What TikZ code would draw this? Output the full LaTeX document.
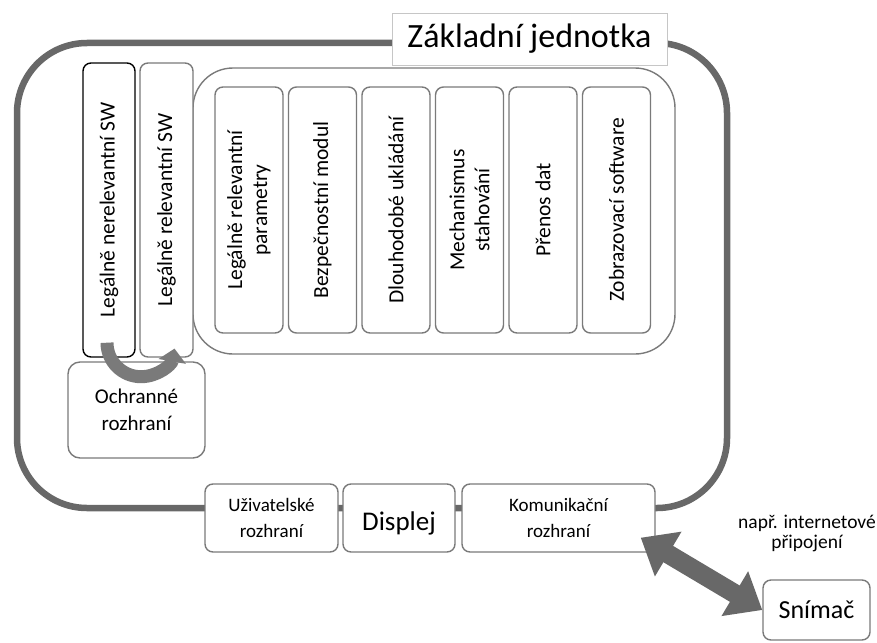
\documentclass[tikz,border=0pt]{standalone}
\usepackage{fontspec}
\setmainfont{Carlito}
\usetikzlibrary{arrows.meta}
\definecolor{ramec}{HTML}{686868}
\definecolor{okraj}{HTML}{7A7A7A}
\begin{document}
\begin{tikzpicture}[x=1pt,y=-1pt,
  box/.style={draw=okraj, line width=1.4pt, rounded corners=8pt, fill=white, align=center, inner sep=1pt},
  modul/.style={box, rotate=90, minimum height=68pt, font=\fontsize{21.5}{25}\selectfont},
  rozhrani/.style={box, minimum height=68pt, font=\fontsize{19}{26}\selectfont}]
  \useasboundingbox (0,0) rectangle (877,642);

  \draw[ramec, line width=6.5pt, rounded corners=70pt] (17,43) rectangle (727,508);

  \node[draw=gray!45, fill=white, line width=0.8pt, minimum width=275pt, minimum height=52pt, font=\fontsize{34}{40}\selectfont] (zakl) at (529.5,39) {Základní jednotka};

  \node[box, rounded corners=40pt, minimum width=482pt, minimum height=286pt] (sw) at (434,211) {};
  \foreach \t [count=\i from 0] in {Legálně relevantní\\parametry, Bezpečnostní modul, Dlouhodobé ukládání, Mechanismus\\stahování, Přenos dat, Zobrazovací software}
    \node[modul, minimum width=246pt] (m\i) at (249+73.5*\i,210) {\t};

  \node[modul, draw=black, minimum width=294pt, minimum height=52pt] (nerel) at (109,210) {Legálně nerelevantní SW};
  \node[modul, minimum width=294pt, minimum height=53pt] (rel) at (166.5,210) {Legálně relevantní SW};

  \node[box, rounded corners=12pt, minimum width=137pt, minimum height=96pt, font=\fontsize{21}{27}\selectfont] (ochr) at (136.5,410) {Ochranné\\rozhraní};
  \draw[okraj, line width=13pt, -{Triangle[width=27pt,length=13pt]}] (nerel.west) ++(-2,-15) arc[start angle=180, end angle=10, radius=34];

  \node[rozhrani, minimum width=133pt] (uziv) at (271.5,518) {Uživatelské\\rozhraní};
  \node[box, minimum width=112pt, minimum height=68pt, text height=30pt, font=\fontsize{27}{30}\selectfont] (disp) at (399,518) {Displej};
  \node[rozhrani, minimum width=193pt] (komu) at (558.5,518) {Komunikační\\rozhraní};

  \node[box, minimum width=107pt, minimum height=60pt, font=\fontsize{26}{30}\selectfont] (snim) at (816.5,610) {Snímač};
  \node[align=center, font=\fontsize{19.5}{20}\selectfont] (pozn) at (807,533) {např. internetové\\připojení};

  \draw[ramec, line width=19pt, {Triangle[width=50pt,length=32pt]}-{Triangle[width=50pt,length=32pt]}] (komu.south east) ++(-15,-15) -- (snim.west);
\end{tikzpicture}
\end{document}
